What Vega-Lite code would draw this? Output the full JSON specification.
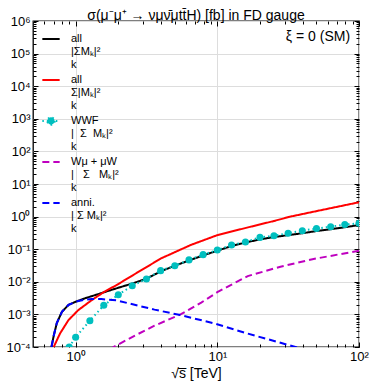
{
  "$schema": "https://vega.github.io/schema/vega-lite/v6.json",
  "width": 326,
  "height": 326,
  "autosize": {"type": "none"},
  "padding": {"left": 33, "top": 21, "right": 15, "bottom": 40},
  "config": {
    "font": "Liberation Sans",
    "view": {"stroke": "black", "strokeWidth": 1.3},
    "axis": {"labelColor": "black", "titleColor": "black", "tickColor": "black", "gridColor": "#dddddd", "gridWidth": 1}
  },
  "title": {"text": "σ(μ⁻μ⁺ → νμν̄μtt̄H) [fb] in FD gauge", "fontSize": 14, "fontWeight": "normal", "offset": -8, "frame": "group", "anchor": "middle", "color": "black"},
  "data": {"values": [
    {"s": "coh", "x": 0.675, "y": 0.0001},
    {"s": "coh", "x": 0.7, "y": 0.00022},
    {"s": "coh", "x": 0.736, "y": 0.00054},
    {"s": "coh", "x": 0.8, "y": 0.0012},
    {"s": "coh", "x": 0.89, "y": 0.00195},
    {"s": "coh", "x": 1.0, "y": 0.00245},
    {"s": "coh", "x": 1.16, "y": 0.0031},
    {"s": "coh", "x": 1.52, "y": 0.0045},
    {"s": "coh", "x": 1.94, "y": 0.0063},
    {"s": "coh", "x": 2.6, "y": 0.0093},
    {"s": "coh", "x": 3.16, "y": 0.0125},
    {"s": "coh", "x": 4.0, "y": 0.021},
    {"s": "coh", "x": 5.0, "y": 0.031},
    {"s": "coh", "x": 6.3, "y": 0.045},
    {"s": "coh", "x": 7.9, "y": 0.064},
    {"s": "coh", "x": 10, "y": 0.09},
    {"s": "coh", "x": 12.6, "y": 0.125},
    {"s": "coh", "x": 15.8, "y": 0.16},
    {"s": "coh", "x": 20, "y": 0.2},
    {"s": "coh", "x": 25, "y": 0.235},
    {"s": "coh", "x": 31.6, "y": 0.27},
    {"s": "coh", "x": 40, "y": 0.31},
    {"s": "coh", "x": 50, "y": 0.36},
    {"s": "coh", "x": 63, "y": 0.41},
    {"s": "coh", "x": 79, "y": 0.47},
    {"s": "coh", "x": 100, "y": 0.55},

    {"s": "incoh", "x": 0.7, "y": 0.0001},
    {"s": "incoh", "x": 0.776, "y": 0.00026},
    {"s": "incoh", "x": 0.89, "y": 0.00067},
    {"s": "incoh", "x": 1.045, "y": 0.00136},
    {"s": "incoh", "x": 1.3, "y": 0.00275},
    {"s": "incoh", "x": 1.6, "y": 0.005},
    {"s": "incoh", "x": 1.94, "y": 0.0079},
    {"s": "incoh", "x": 2.6, "y": 0.017},
    {"s": "incoh", "x": 4.0, "y": 0.052},
    {"s": "incoh", "x": 6.5, "y": 0.135},
    {"s": "incoh", "x": 10, "y": 0.27},
    {"s": "incoh", "x": 17.2, "y": 0.49},
    {"s": "incoh", "x": 25, "y": 0.73},
    {"s": "incoh", "x": 32.8, "y": 1.0},
    {"s": "incoh", "x": 53, "y": 1.55},
    {"s": "incoh", "x": 100, "y": 2.75},

    {"s": "WWF", "x": 0.9, "y": 0.0001},
    {"s": "WWF", "x": 1.0, "y": 0.0002},
    {"s": "WWF", "x": 1.26, "y": 0.00064},
    {"s": "WWF", "x": 1.58, "y": 0.0019},
    {"s": "WWF", "x": 2.0, "y": 0.004},
    {"s": "WWF", "x": 2.51, "y": 0.0076},
    {"s": "WWF", "x": 3.16, "y": 0.0122},
    {"s": "WWF", "x": 3.98, "y": 0.022},
    {"s": "WWF", "x": 5.01, "y": 0.031},
    {"s": "WWF", "x": 6.31, "y": 0.047},
    {"s": "WWF", "x": 7.94, "y": 0.068},
    {"s": "WWF", "x": 10, "y": 0.094},
    {"s": "WWF", "x": 12.6, "y": 0.135},
    {"s": "WWF", "x": 15.8, "y": 0.167},
    {"s": "WWF", "x": 20, "y": 0.23},
    {"s": "WWF", "x": 25.1, "y": 0.26},
    {"s": "WWF", "x": 31.6, "y": 0.31},
    {"s": "WWF", "x": 39.8, "y": 0.37},
    {"s": "WWF", "x": 50.1, "y": 0.43},
    {"s": "WWF", "x": 63.1, "y": 0.49},
    {"s": "WWF", "x": 79.4, "y": 0.57},
    {"s": "WWF", "x": 100, "y": 0.62},

    {"s": "Wmu", "x": 1.75, "y": 0.00008},
    {"s": "Wmu", "x": 1.85, "y": 0.0001},
    {"s": "Wmu", "x": 2.6, "y": 0.00022},
    {"s": "Wmu", "x": 3.6, "y": 0.00045},
    {"s": "Wmu", "x": 5.5, "y": 0.001},
    {"s": "Wmu", "x": 7.7, "y": 0.0023},
    {"s": "Wmu", "x": 10, "y": 0.0048},
    {"s": "Wmu", "x": 16.4, "y": 0.015},
    {"s": "Wmu", "x": 27.9, "y": 0.029},
    {"s": "Wmu", "x": 47.8, "y": 0.05},
    {"s": "Wmu", "x": 100, "y": 0.09},

    {"s": "anni", "x": 0.675, "y": 0.0001},
    {"s": "anni", "x": 0.7, "y": 0.00022},
    {"s": "anni", "x": 0.736, "y": 0.00054},
    {"s": "anni", "x": 0.8, "y": 0.0012},
    {"s": "anni", "x": 0.89, "y": 0.00195},
    {"s": "anni", "x": 1.0, "y": 0.00245},
    {"s": "anni", "x": 1.16, "y": 0.00285},
    {"s": "anni", "x": 1.3, "y": 0.00295},
    {"s": "anni", "x": 1.52, "y": 0.00295},
    {"s": "anni", "x": 1.94, "y": 0.0027},
    {"s": "anni", "x": 2.35, "y": 0.0022},
    {"s": "anni", "x": 3.6, "y": 0.0014},
    {"s": "anni", "x": 5.5, "y": 0.00095},
    {"s": "anni", "x": 9.5, "y": 0.00053},
    {"s": "anni", "x": 16.3, "y": 0.00026},
    {"s": "anni", "x": 35.6, "y": 0.0001},
    {"s": "anni", "x": 40, "y": 0.000085}
  ]},
  "resolve": {"axis": {"x": "independent", "y": "independent"}},
  "layer": [
    {
      "transform": [{"filter": "datum.s == 'coh'"}],
      "mark": {"type": "line", "strokeWidth": 2, "clip": true},
      "encoding": {
        "x": {"field": "x", "type": "quantitative", "scale": {"type": "log", "domain": [0.5, 100], "nice": false},
          "axis": {"orient": "bottom", "values": [1, 10, 100], "ticks": false, "domain": false, "grid": true, "labelFontSize": 13, "labelPadding": 3, "labelFlush": false,
            "labelExpr": "'10' + replace(replace(replace(replace(replace(replace(replace(replace(replace(replace(replace('' + round(log(datum.value)/LN10), '-', '⁻'), '0', '⁰'), '1', '¹'), '2', '²'), '3', '³'), '4', '⁴'), '5', '⁵'), '6', '⁶'), '7', '⁷'), '8', '⁸'), '9', '⁹')",
            "title": "√s̅ [TeV]", "titleFontSize": 14, "titleFontWeight": "normal", "titlePadding": 3}},
        "y": {"field": "y", "type": "quantitative", "scale": {"type": "log", "domain": [0.0001, 1000000], "nice": false},
          "axis": {"orient": "left", "values": [0.0001, 0.001, 0.01, 0.1, 1, 10, 100, 1000, 10000, 100000, 1000000], "ticks": false, "domain": false, "grid": true, "labelFontSize": 13, "labelPadding": 3, "labelFlush": false,
            "labelExpr": "'10' + replace(replace(replace(replace(replace(replace(replace(replace(replace(replace(replace('' + round(log(datum.value)/LN10), '-', '⁻'), '0', '⁰'), '1', '¹'), '2', '²'), '3', '³'), '4', '⁴'), '5', '⁵'), '6', '⁶'), '7', '⁷'), '8', '⁸'), '9', '⁹')",
            "title": null}},
        "color": {"field": "s", "type": "nominal",
          "scale": {"domain": ["coh", "incoh", "WWF", "Wmu", "anni"], "range": ["#000000", "#ff0000", "#00bfbf", "#bf00bf", "#0000ff"]},
          "legend": {"orient": "top-left", "offset": 8, "padding": 0, "title": null, "symbolType": "stroke", "symbolSize": 300, "symbolStrokeWidth": 2,
            "labelFontSize": 11, "labelLineHeight": 10, "labelOffset": 10, "rowPadding": 0, "labelLimit": 200, "labelColor": "black",
            "labelExpr": "datum.value == 'coh' ? ['\u00a0\u00a0all', '|ΣMₖ|²', '\u00a0\u00a0k'] : datum.value == 'incoh' ? ['all', 'Σ|Mₖ|²', '\u00a0k'] : datum.value == 'WWF' ? ['\u00a0\u00a0\u00a0WWF', '|\u00a0\u00a0Σ\u00a0\u00a0Mₖ|²', '\u00a0\u00a0\u00a0\u00a0k'] : datum.value == 'Wmu' ? ['\u00a0\u00a0Wμ + μW', '|\u00a0\u00a0\u00a0Σ\u00a0\u00a0\u00a0Mₖ|²', '\u00a0\u00a0\u00a0\u00a0\u00a0k'] : ['\u00a0anni.', '|\u00a0Σ\u00a0Mₖ|²', '\u00a0\u00a0\u00a0k']",
            "encode": {"symbols": {"update": {
              "shape": {"signal": "datum.value == 'WWF' ? 'M-1,0H1M0.42,0A0.42,0.42,0,1,1,-0.42,0A0.42,0.42,0,1,1,0.42,0Z' : 'stroke'"},
              "fill": {"signal": "datum.value == 'WWF' ? '#00bfbf' : 'transparent'"}}}}}},
        "strokeDash": {"field": "s", "type": "nominal",
          "scale": {"domain": ["coh", "incoh", "WWF", "Wmu", "anni"], "range": [[1, 0], [1, 0], [1.5, 3], [7, 4], [7, 4]]}}
      }
    },
    {
      "transform": [{"filter": "datum.s == 'incoh'"}],
      "mark": {"type": "line", "strokeWidth": 2, "clip": true},
      "encoding": {
        "x": {"field": "x", "type": "quantitative", "axis": {"orient": "bottom", "values": [1, 10, 100], "tickSize": -5, "labels": false, "domain": false, "grid": false, "title": null}},
        "y": {"field": "y", "type": "quantitative", "axis": {"orient": "left", "values": [0.0001, 0.001, 0.01, 0.1, 1, 10, 100, 1000, 10000, 100000, 1000000], "tickSize": -5, "labels": false, "domain": false, "grid": false, "title": null}},
        "color": {"field": "s", "type": "nominal"},
        "strokeDash": {"field": "s", "type": "nominal"}
      }
    },
    {
      "transform": [{"filter": "datum.s == 'WWF'"}],
      "mark": {"type": "line", "strokeWidth": 2, "clip": true},
      "encoding": {
        "x": {"field": "x", "type": "quantitative", "axis": {"orient": "bottom", "values": [0.6, 0.7, 0.8, 0.9, 2, 3, 4, 5, 6, 7, 8, 9, 20, 30, 40, 50, 60, 70, 80, 90], "tickSize": -3, "labels": false, "domain": false, "grid": false, "title": null}},
        "y": {"field": "y", "type": "quantitative", "axis": {"orient": "left", "values": [0.0002,0.0003,0.0004,0.0005,0.0006,0.0007,0.0008,0.0009,0.002,0.003,0.004,0.005,0.006,0.007,0.008,0.009,0.02,0.03,0.04,0.05,0.06,0.07,0.08,0.09,0.2,0.3,0.4,0.5,0.6,0.7,0.8,0.9,2,3,4,5,6,7,8,9,20,30,40,50,60,70,80,90,200,300,400,500,600,700,800,900,2000,3000,4000,5000,6000,7000,8000,9000,20000,30000,40000,50000,60000,70000,80000,90000,200000,300000,400000,500000,600000,700000,800000,900000], "tickSize": -3, "labels": false, "domain": false, "grid": false, "title": null}},
        "color": {"field": "s", "type": "nominal"},
        "strokeDash": {"field": "s", "type": "nominal"}
      }
    },
    {
      "transform": [{"filter": "datum.s == 'WWF'"}],
      "mark": {"type": "point", "filled": true, "size": 50, "opacity": 1, "color": "#00bfbf", "clip": true},
      "encoding": {
        "x": {"field": "x", "type": "quantitative", "axis": {"orient": "top", "values": [1, 10, 100], "tickSize": -5, "labels": false, "domain": false, "grid": false, "title": null}},
        "y": {"field": "y", "type": "quantitative", "axis": {"orient": "right", "values": [0.0001, 0.001, 0.01, 0.1, 1, 10, 100, 1000, 10000, 100000, 1000000], "tickSize": -5, "labels": false, "domain": false, "grid": false, "title": null}}
      }
    },
    {
      "transform": [{"filter": "datum.s == 'Wmu'"}],
      "mark": {"type": "line", "strokeWidth": 2, "clip": true},
      "encoding": {
        "x": {"field": "x", "type": "quantitative", "axis": {"orient": "top", "values": [0.6, 0.7, 0.8, 0.9, 2, 3, 4, 5, 6, 7, 8, 9, 20, 30, 40, 50, 60, 70, 80, 90], "tickSize": -3, "labels": false, "domain": false, "grid": false, "title": null}},
        "y": {"field": "y", "type": "quantitative", "axis": {"orient": "right", "values": [0.0002,0.0003,0.0004,0.0005,0.0006,0.0007,0.0008,0.0009,0.002,0.003,0.004,0.005,0.006,0.007,0.008,0.009,0.02,0.03,0.04,0.05,0.06,0.07,0.08,0.09,0.2,0.3,0.4,0.5,0.6,0.7,0.8,0.9,2,3,4,5,6,7,8,9,20,30,40,50,60,70,80,90,200,300,400,500,600,700,800,900,2000,3000,4000,5000,6000,7000,8000,9000,20000,30000,40000,50000,60000,70000,80000,90000,200000,300000,400000,500000,600000,700000,800000,900000], "tickSize": -3, "labels": false, "domain": false, "grid": false, "title": null}},
        "color": {"field": "s", "type": "nominal"},
        "strokeDash": {"field": "s", "type": "nominal"}
      }
    },
    {
      "transform": [{"filter": "datum.s == 'anni'"}],
      "mark": {"type": "line", "strokeWidth": 2, "clip": true},
      "encoding": {
        "x": {"field": "x", "type": "quantitative", "axis": null},
        "y": {"field": "y", "type": "quantitative", "axis": null},
        "color": {"field": "s", "type": "nominal"},
        "strokeDash": {"field": "s", "type": "nominal"}
      }
    },
    {
      "data": {"values": [{"label": "ξ = 0 (SM)"}]},
      "mark": {"type": "text", "fontSize": 14, "align": "right", "baseline": "middle", "color": "black"},
      "encoding": {
        "text": {"field": "label"},
        "x": {"datum": 86.5, "type": "quantitative", "axis": null},
        "y": {"datum": 330000, "type": "quantitative", "axis": null}
      }
    }
  ]
}
